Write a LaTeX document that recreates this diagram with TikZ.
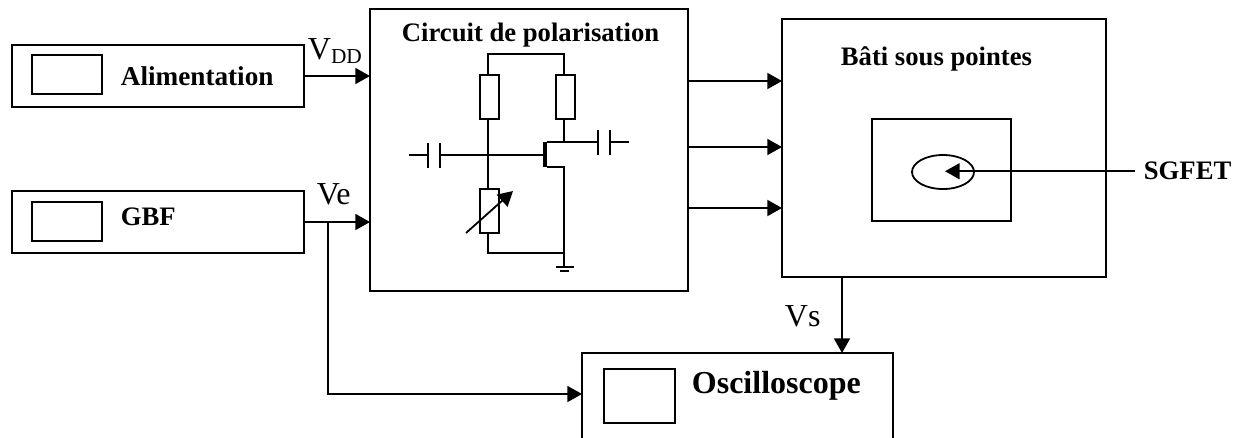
\documentclass[tikz,border=0pt]{standalone}
\usepackage{fontspec}
\setmainfont{Liberation Serif}
\usetikzlibrary{arrows.meta,shapes.geometric}

\begin{document}
\begin{tikzpicture}[x=.75pt,y=-.75pt,>={Triangle[length=11pt,width=12pt]},
 line width=1.35pt,
 box/.style={draw,inner sep=0pt,outer sep=0pt},
 res/.style={box,minimum width=14.25pt,minimum height=33pt},
 plate/.style={fill=black,inner sep=0pt,outer sep=0pt,minimum width=1.35pt,minimum height=18.75pt},
 gbar/.style={fill=black,inner sep=0pt,outer sep=0pt,minimum height=1.35pt},
 lab/.style={inner sep=0pt,anchor=base west,font=\fontsize{20}{24}\selectfont\bfseries},
 sig/.style={inner sep=0pt,anchor=base west,font=\fontsize{24}{28}\selectfont},
 arr/.style={->}]
\clip (0,0) rectangle (1237,437);
\node[box,minimum width=219pt,minimum height=46.5pt] (alim) at (158,76) {};
\node[box,minimum width=52.5pt,minimum height=29.25pt] (alimscr) at (67,74.5) {};
\node[lab,font=\fontsize{20.4}{24}\selectfont\bfseries] (alimtxt) at (120,85) {Alimentation};
\node[box,minimum width=219pt,minimum height=46.5pt] (gbf) at (158,222) {};
\node[box,minimum width=52.5pt,minimum height=29.25pt] (gbfscr) at (67,221.4) {};
\node[lab] (gbftxt) at (120,225) {GBF};
\node[box,minimum width=238.5pt,minimum height=211.5pt] (circ) at (529,150) {};
\node[lab] (circtxt) at (401,41) {Circuit de polarisation};
\node[box,minimum width=243pt,minimum height=193.5pt] (bati) at (944,148) {};
\node[lab] (batitxt) at (840,65) {Bâti sous pointes};
\node[box,minimum width=104.25pt,minimum height=76.5pt] (chip) at (941.5,170) {};
\node[box,ellipse,minimum width=46.5pt,minimum height=25.5pt] (sgfet) at (943,172) {};
\node[lab] (sgtxt) at (1143,179) {SGFET};
\node[box,minimum width=233.25pt,minimum height=87.75pt] (osc) at (737.5,411.5) {};
\node[box,minimum width=53.25pt,minimum height=40.5pt] (oscscr) at (639.5,396) {};
\node[lab,font=\fontsize{24}{28}\selectfont\bfseries] (osctxt) at (691,393) {Oscilloscope};
\node[sig] (vdd) at (307,59) {V{\fontsize{16}{16}\selectfont\raisebox{-3pt}{DD}}};
\node[sig] (ve) at (316,204) {Ve};
\node[sig] (vs) at (784,326) {Vs};
\coordinate (br) at (328,222);\coordinate (vsout) at (842,277);\coordinate (tip) at (945,171);
\coordinate (oa) at ([yshift=51.75pt]circ.east);\coordinate (ob) at ([yshift=2.25pt]circ.east);\coordinate (oc) at ([yshift=-43.5pt]circ.east);
\draw[arr] (alim.east)--(alim.east-|circ.west);
\draw[arr] (gbf.east)--(gbf.east-|circ.west);
\draw[arr] (br)|-([yshift=13.125pt]osc.west);
\draw[arr] (oa)--(oa-|bati.west);\draw[arr] (ob)--(ob-|bati.west);\draw[arr] (oc)--(oc-|bati.west);
\draw[arr] (vsout)--(vsout|-osc.north);
\draw[arr] ([xshift=-6pt,yshift=-.7pt]sgtxt.west)--([yshift=-.7pt]tip|-sgtxt.west);
\node[res] (ra) at (489.5,97) {};
\node[res] (rb) at (565.5,97) {};
\node[res] (rv) at (489.5,211) {};
\node[plate] (pa) at (428,155) {};
\node[plate] (pb) at (440,155) {};
\node[plate] (pc) at (598,142) {};
\node[plate] (pd) at (610,142) {};
\node[plate,minimum width=2.6pt] (fet) at (545,154.5) {};
\node[gbar,minimum width=13.5pt] (ga) at (565,267) {};
\node[gbar,minimum width=6.75pt] (gb) at (564.5,271) {};
\coordinate (tl) at (488,54);\coordinate (tr) at (564,54);\coordinate (gin) at (409,155);
\coordinate (dout) at (629,142);\coordinate (bj) at (564,253);\coordinate (va) at (466,233);\coordinate (vb) at (513,191);
\draw (tl|-ra.north)--(tl)--(tr)--(tr|-rb.north);
\draw (tl|-ra.south)--(tl|-rv.north);
\draw (tl|-rv.south)|-(bj);
\draw (gin)--(pa);\draw (pb)--(pb-|fet.west);
\draw (tr|-rb.south)--(tr|-fet.north);
\draw (fet.north east)--(pc.west|-fet.north);\draw (pd)--(dout);
\draw (fet.south east)-|(tr|-ga);
\draw[arr] (va)--(vb);
\end{tikzpicture}
\end{document}
